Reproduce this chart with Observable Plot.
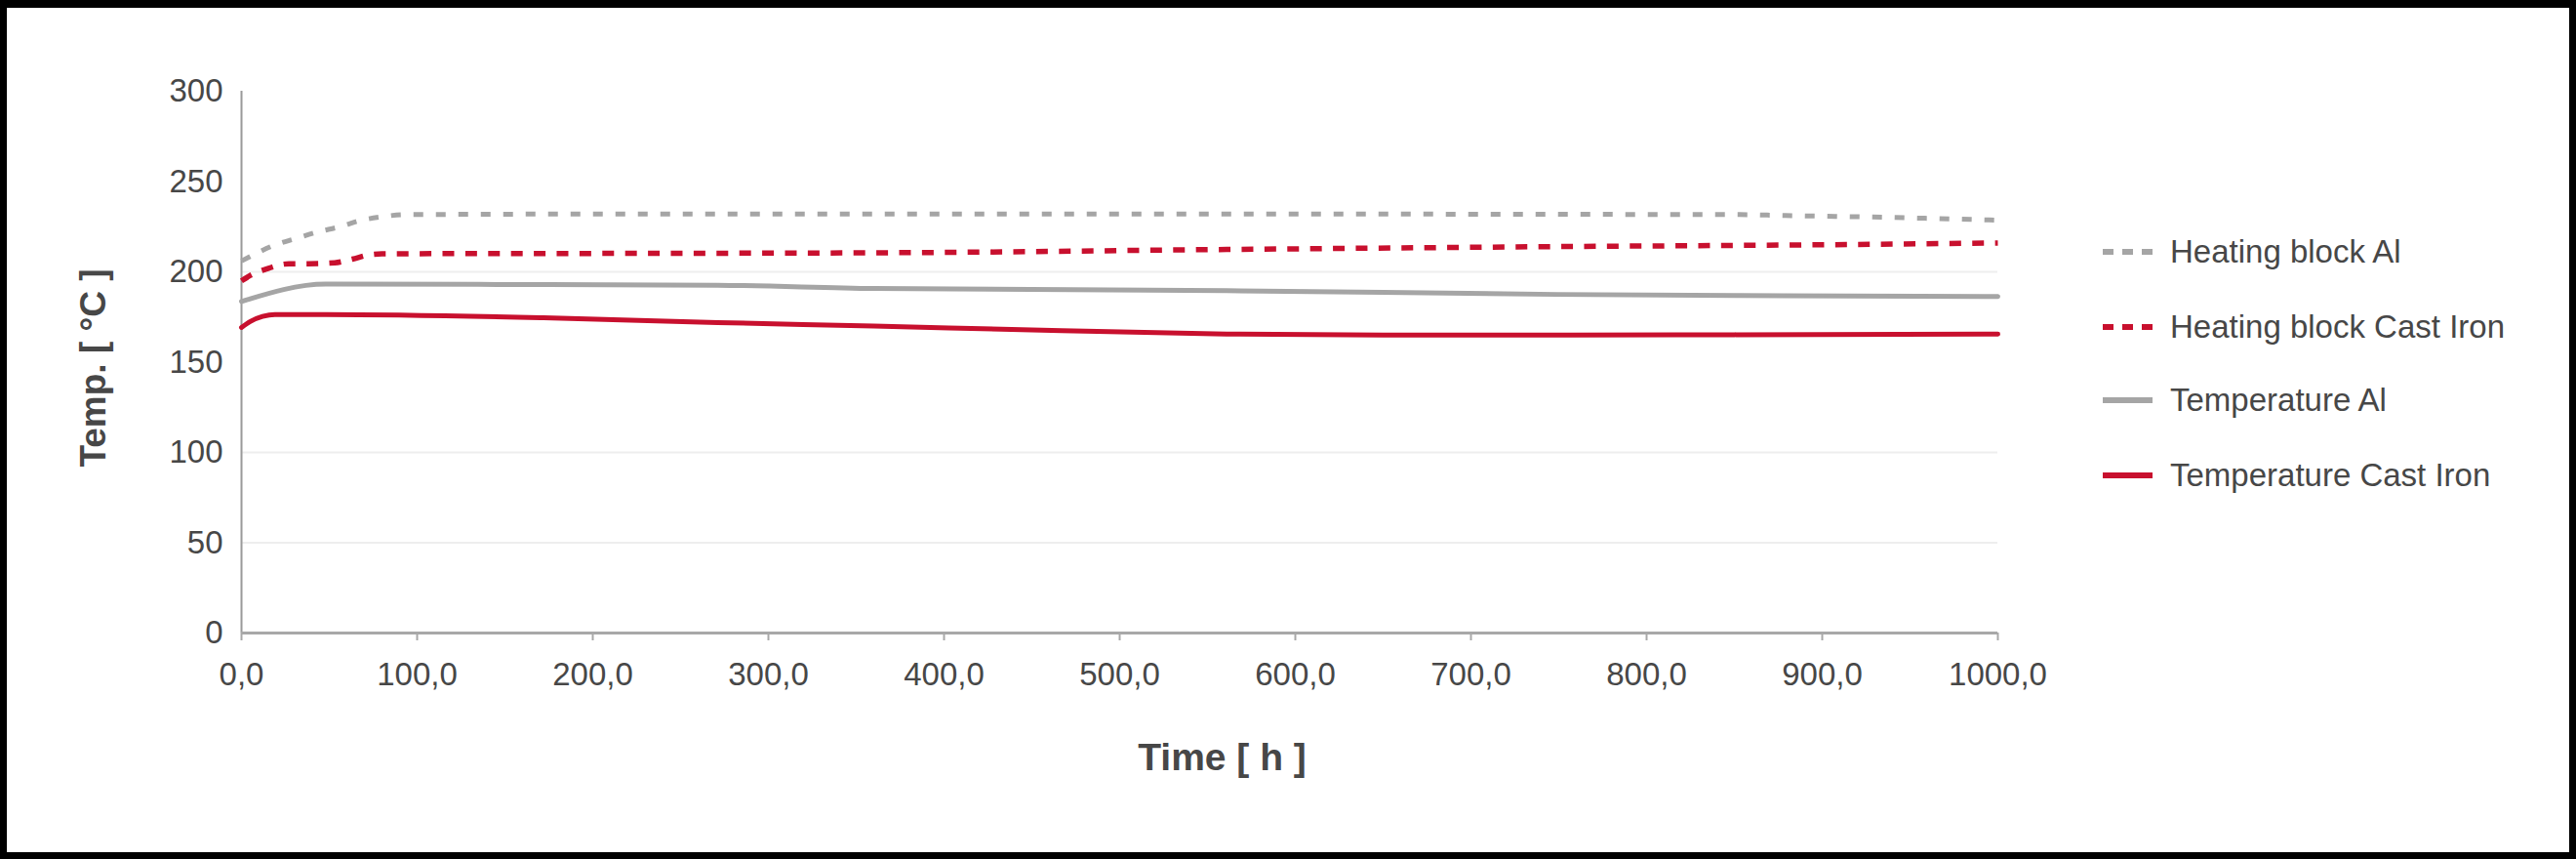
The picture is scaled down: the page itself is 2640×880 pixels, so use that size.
<!DOCTYPE html>
<html>
<head>
<meta charset="utf-8">
<script src="https://cdn.jsdelivr.net/npm/d3@7"></script>
<script src="https://cdn.jsdelivr.net/npm/@observablehq/plot@0.6"></script>
<style>
  html, body { margin: 0; padding: 0; background: #000; }
  #page { position: relative; width: 2640px; height: 880px; background: #000; overflow: hidden; }
  #card { position: absolute; left: 7px; top: 8px; width: 2626px; height: 865px; background: #fff; }
  #chart { position: absolute; left: 0; top: 0; }
  .leg { position: absolute; left: 2155px; height: 40px; display: flex; align-items: center;
         font-family: "Liberation Sans", Arial, sans-serif; font-size: 33px; color: #474747; white-space: nowrap; }
  .leg svg { margin-right: 18px; display: block; }
</style>
</head>
<body>
<div id="page">
  <div id="card"></div>
  <div id="chart"></div>
</div>
<script>
// ---- data ----
const seriesNames = ["Heating block Al", "Heating block Cast Iron", "Temperature Al", "Temperature Cast Iron"];

const heatAlTime = [0, 9, 18, 31, 43, 56, 68, 80, 93, 200, 400, 600, 800, 853, 879, 921, 962, 1000];
const heatAlTemp = [206, 210.5, 214.5, 218.5, 222, 225, 228.5, 230.5, 231.7, 232, 232, 232, 231.8, 231.7, 231.2, 230.5, 229.6, 228.6];

const heatCiTime = [0, 5, 14, 27, 38, 53, 63, 73, 80, 200, 370, 561, 750, 900, 1000];
const heatCiTemp = [195, 198, 201.5, 204.5, 204.5, 205, 207, 209.5, 210, 210.2, 210.6, 212.4, 214, 215, 216];

const tempAlTime = [0, 48, 150, 271, 360, 561, 749, 880, 1000];
const tempAlTemp = [183.6, 193.2, 193, 192.6, 190.8, 189.6, 187.5, 186.8, 186.3];

const tempCiTime = [0, 5, 12, 19, 48, 172, 271, 360, 450, 561, 650, 749, 850, 1000];
const tempCiTemp = [169.2, 172.5, 175.3, 176.4, 176.4, 174.6, 171.9, 170, 167.8, 165.6, 165, 165, 165.2, 165.6];

const xTicks = [0, 100, 200, 300, 400, 500, 600, 700, 800, 900, 1000];
const yTicks = [0, 50, 100, 150, 200, 250, 300];
const gridValues = [50, 100, 200];

const xTitle = "Time [ h ]";
const yTitle = "Temp. [ °C ]";

// ---- styles ----
const GRAY = "#a5a5a5";
const RED = "#c8102e";
const styles = {
  "Heating block Al": {stroke: GRAY, dash: "10,13", width: 5},
  "Heating block Cast Iron": {stroke: RED, dash: "12,11.4", width: 5.5},
  "Temperature Al": {stroke: GRAY, dash: null, width: 5},
  "Temperature Cast Iron": {stroke: RED, dash: null, width: 5}
};

function rows(name, ts, vs) { return ts.map((t, i) => ({series: name, t, v: vs[i]})); }
const tables = [
  rows(seriesNames[0], heatAlTime, heatAlTemp),
  rows(seriesNames[1], heatCiTime, heatCiTemp),
  rows(seriesNames[2], tempAlTime, tempAlTemp),
  rows(seriesNames[3], tempCiTime, tempCiTemp)
];

const FONT = '"Liberation Sans", Arial, sans-serif';

const lineMarks = tables.map(tbl => {
  const s = styles[tbl[0].series];
  const o = {x: "t", y: "v", stroke: s.stroke, strokeWidth: s.width, curve: "monotone-x"};
  if (s.dash) { o.strokeDasharray = s.dash; o.strokeLinecap = "butt"; }
  return Plot.line(tbl, o);
});

const chart = Plot.plot({
  width: 2640,
  height: 880,
  marginLeft: 247,
  marginRight: 593,
  marginTop: 93,
  marginBottom: 232,
  style: {background: "transparent", overflow: "visible", fontFamily: FONT, color: "#474747"},
  x: {domain: [0, 1000]},
  y: {domain: [0, 300]},
  marks: [
    Plot.ruleY(gridValues, {stroke: "#eeeeee", strokeWidth: 2}),
    Plot.axisY({ticks: yTicks, tickSize: 0, tickPadding: 19, fontSize: 33, label: null, fill: "#474747"}),
    Plot.axisX({ticks: xTicks, tickSize: 8, tickPadding: 22, fontSize: 33, label: null,
                tickFormat: d => d.toFixed(1).replace(".", ","), stroke: "#a8a8a8", strokeWidth: 2, fill: "#474747"}),
    Plot.ruleX([0], {stroke: "#9a9a9a", strokeWidth: 2}),
    Plot.ruleY([0], {stroke: "#a8a8a8", strokeWidth: 3}),
    ...lineMarks,
    Plot.text([yTitle], {frameAnchor: "left", rotate: -90, dx: -151, dy: 6, fontSize: 37, fontWeight: "bold",
                         fill: "#474747", textAnchor: "middle", lineAnchor: "middle"}),
    Plot.text([xTitle], {frameAnchor: "bottom", dx: 105, dy: 128, fontSize: 39, fontWeight: "bold",
                         fill: "#474747", textAnchor: "middle", lineAnchor: "middle"})
  ]
});
document.getElementById("chart").appendChild(chart);

// ---- legend ----
const legendRows = [258, 335, 410, 487];
const page = document.getElementById("page");
seriesNames.forEach((name, i) => {
  const s = styles[name];
  const div = document.createElement("div");
  div.className = "leg";
  div.style.top = (legendRows[i] - 20) + "px";
  const svgNS = "http://www.w3.org/2000/svg";
  const svg = document.createElementNS(svgNS, "svg");
  svg.setAttribute("width", "51");
  svg.setAttribute("height", "12");
  const ln = document.createElementNS(svgNS, "line");
  ln.setAttribute("x1", "0"); ln.setAttribute("x2", "51");
  ln.setAttribute("y1", "6"); ln.setAttribute("y2", "6");
  ln.setAttribute("stroke", s.stroke);
  ln.setAttribute("stroke-width", "6");
  if (s.dash) ln.setAttribute("stroke-dasharray", "11,9");
  svg.appendChild(ln);
  div.appendChild(svg);
  const span = document.createElement("span");
  span.textContent = name;
  div.appendChild(span);
  page.appendChild(div);
});
</script>
</body>
</html>
